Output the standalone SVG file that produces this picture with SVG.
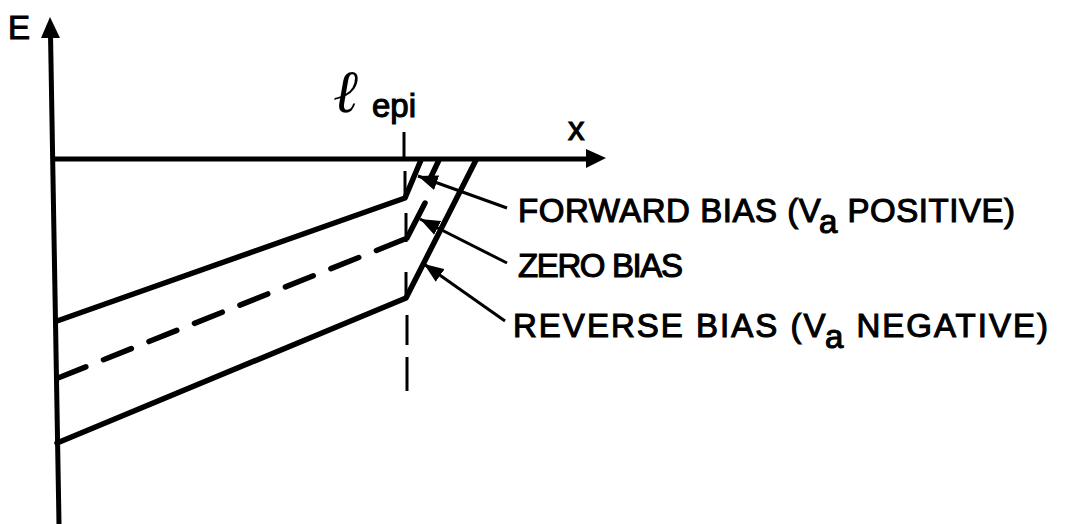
<svg xmlns="http://www.w3.org/2000/svg" width="1067" height="524" viewBox="0 0 1067 524">
<defs>
<style>
.ax{stroke:#000;stroke-width:5;fill:none;stroke-linecap:butt}
.band{stroke:#000;stroke-width:5.5;fill:none;stroke-linecap:round;stroke-linejoin:round}
.dash{stroke:#000;stroke-width:5.5;fill:none;stroke-linecap:round;stroke-dasharray:30 19}
.epi{stroke:#000;stroke-width:3;fill:none}
.arr{stroke:#000;stroke-width:3;fill:none;marker-end:url(#ah)}
.lbl{font-family:"Liberation Sans",Arial,sans-serif;font-size:33px;fill:#000;stroke:#000;stroke-width:1.1}
</style>
<marker id="ah" markerUnits="userSpaceOnUse" markerWidth="22" markerHeight="16" refX="18" refY="7" orient="auto" viewBox="0 0 20 14">
<path d="M0,0 L18,7 L0,14 Z" fill="#000"/>
</marker>
</defs>
<g id="axes">
<line class="ax" x1="50.5" y1="34" x2="59" y2="524"/>
<polygon points="50,17 41,38 60,38" fill="#000"/>
<line class="ax" x1="52" y1="159" x2="590" y2="159"/>
<polygon points="606,158 586,149 586,168" fill="#000"/>
<text class="lbl" x="8" y="39" font-size="35">E</text>
<text class="lbl" x="568" y="140">x</text>
</g>
<g id="lepi">
<text x="334" y="112" font-family="DejaVu Serif,serif" font-style="italic" font-weight="bold" font-size="60">ℓ</text>
<text class="lbl" x="372" y="117" font-size="32" stroke-width="0.6">epi</text>
<line class="epi" x1="404" y1="132" x2="404" y2="158"/>
<line class="epi" x1="405" y1="171" x2="405" y2="200"/>
<line class="epi" x1="406" y1="213" x2="406" y2="242"/>
<line class="epi" x1="406" y1="272" x2="406" y2="300"/>
<line class="epi" x1="407" y1="315" x2="407" y2="345"/>
<line class="epi" x1="407" y1="357" x2="407" y2="391"/>
</g>
<g id="forward">
<polyline class="band" points="57,321 405,198 421,160"/>
</g>
<g id="zero">
<line class="dash" x1="58" y1="378" x2="405" y2="239"/>
<line class="band" x1="407" y1="238" x2="425" y2="203"/>
<line class="band" x1="429" y1="181" x2="439" y2="160"/>
</g>
<g id="reverse">
<polyline class="band" points="57,443 406,298 476,160"/>
</g>
<g id="connectors">
<line class="arr" x1="507" y1="208" x2="418" y2="176"/>
<line class="arr" x1="507" y1="263" x2="420" y2="219"/>
<line class="arr" x1="505" y1="321" x2="424" y2="264"/>
</g>
<g id="labels">
<text class="lbl" x="518" y="222" textLength="497" lengthAdjust="spacing">FORWARD BIAS (V<tspan dy="11">a</tspan><tspan dy="-11"> POSITIVE)</tspan></text>
<text class="lbl" x="518" y="277" textLength="165" lengthAdjust="spacing">ZERO BIAS</text>
<text class="lbl" x="513" y="337" textLength="535" lengthAdjust="spacing">REVERSE BIAS (V<tspan dy="11">a</tspan><tspan dy="-11"> NEGATIVE)</tspan></text>
</g>
</svg>
